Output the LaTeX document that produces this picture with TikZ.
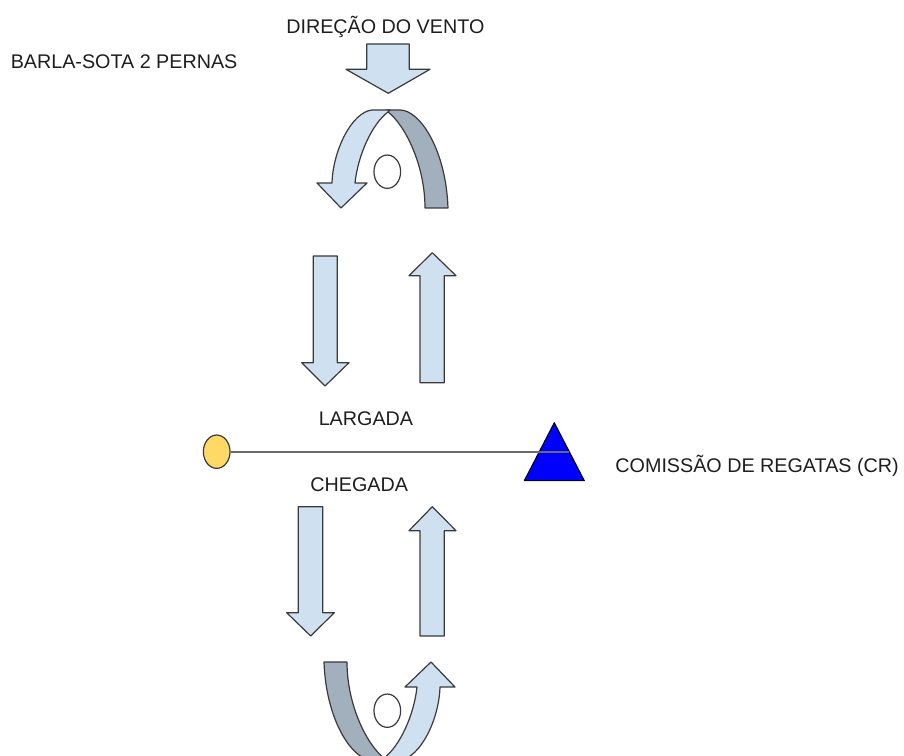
\documentclass[tikz,border=0pt]{standalone}
\usepackage{fontspec}
\setmainfont{Liberation Sans}
\usetikzlibrary{shapes.geometric}
\definecolor{lblue}{HTML}{CFE0F1}
\definecolor{dgray}{HTML}{A2AFBC}
\definecolor{edge}{HTML}{3A3A3A}
\definecolor{pinyel}{HTML}{FFD966}
\definecolor{crblue}{HTML}{0000FF}
\definecolor{txt}{HTML}{1E1E1E}
\definecolor{linegray}{HTML}{6A6A6A}
\newcommand{\drawUturn}{%
 \path[back] (386,110) -- (400,110) .. controls (420,110) and (446,150) .. (448,208) -- (425,208) .. controls (425,165) and (405,125) .. (388,112) -- cycle;
 \path[band] (390,110) -- (372,110) .. controls (352,112) and (333,150) .. (332,183) -- (317,183) -- (341,208) -- (367,183) -- (355,183) .. controls (358,155) and (372,124) .. (388,112) -- cycle;
}
\begin{document}
\begin{tikzpicture}[x=0.75pt,y=-0.75pt,
  lab/.style={font=\fontsize{14.8}{17}\selectfont, text=txt, inner sep=0pt, anchor=base west},
  band/.style={draw=edge, line width=0.9pt, line join=round, fill=lblue},
  back/.style={draw=edge, line width=0.9pt, line join=round, fill=dgray},
  roundmark/.style={draw=edge, line width=0.9pt, fill=white, ellipse, inner sep=0pt, minimum width=20pt, minimum height=25pt}]
\useasboundingbox (0,0) rectangle (904,756);
\begin{scope}
\clip (0,0) rectangle (904,756);
% wind arrow
\path[band] (366.7,44) -- (409.3,44) -- (409.3,69.3) -- (430,69.3) -- (388.3,93.3) -- (346,69.3) -- (366.7,69.3) -- cycle;
% top rounding
\drawUturn
\node[roundmark] (topmark) at (387.3,171.7) {};
% upper straight arrows
\path[band] (313.3,256) -- (337.3,256) -- (337.3,362.7) -- (349,362.7) -- (325,386) -- (301.7,362.7) -- (313.3,362.7) -- cycle;
\path[band] (420,382.7) -- (444.3,382.7) -- (444.3,275.7) -- (456,275.7) -- (432.3,252.7) -- (409,275.7) -- (420,275.7) -- cycle;
% lower straight arrows
\path[band] (298.3,506.7) -- (322.7,506.7) -- (322.7,612.7) -- (334.3,612.7) -- (310.7,636) -- (286.7,612.7) -- (298.3,612.7) -- cycle;
\path[band] (420,636) -- (444.3,636) -- (444.3,530.7) -- (456,530.7) -- (432.3,506.7) -- (409,530.7) -- (420,530.7) -- cycle;
% bottom rounding
\begin{scope}[rotate around={180:(386,435)}]
\drawUturn
\end{scope}
\node[roundmark] (botmark) at (387.3,710.7) {};
% start/finish line
\node[ellipse, draw=edge, line width=0.9pt, fill=pinyel, inner sep=0pt, minimum width=20pt, minimum height=25pt] (pin) at (216.7,451.7) {};
\path[draw=black, line width=0.8pt, fill=crblue, line join=round] (554.3,422.7) -- (584.3,480.7) -- (524.3,480.7) -- cycle;
\coordinate (crend) at (568.5,451.7);
\draw[linegray, line width=1.3pt] (pin.east) -- (crend);
\end{scope}
% labels
\node[lab] (wind) at (286,33.3) {DIREÇÃO DO VENTO};
\node[lab] (title) at (10.5,69) {BARLA-SOTA 2 PERNAS};
\node[lab] (start) at (318.5,425) {LARGADA};
\node[lab] (finish) at (310.2,491) {CHEGADA};
\node[lab] (crlabel) at (615.2,472.7) {COMISSÃO DE REGATAS (CR)};
\end{tikzpicture}
\end{document}
